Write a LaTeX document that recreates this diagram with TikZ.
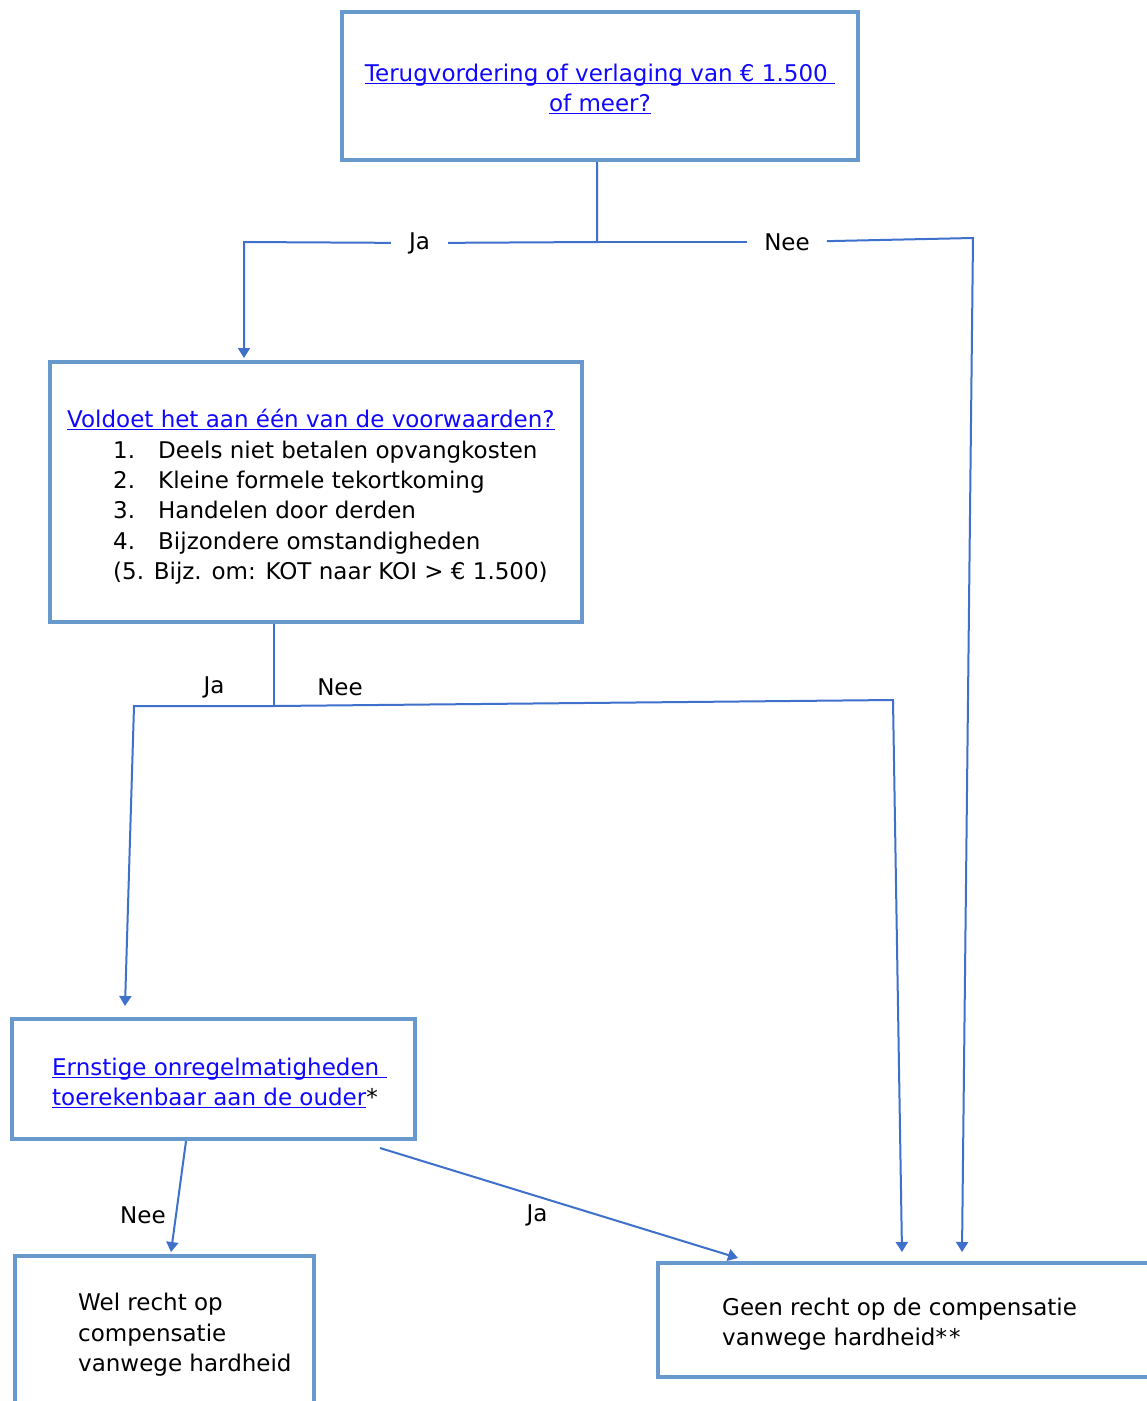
\documentclass[tikz,border=0pt]{standalone}
\usepackage{fontspec}
\setmainfont{DejaVu Sans}
\usetikzlibrary{arrows.meta}
\definecolor{boxc}{RGB}{104,153,204}
\definecolor{linec}{RGB}{62,112,204}
\definecolor{linkc}{RGB}{16,8,255}
\newsavebox\ulboxx
\newcommand{\lnkU}[1]{\sbox\ulboxx{#1}\textcolor{linkc}{\rlap{\rule[-3pt]{\wd\ulboxx}{1.3pt}}#1}}
\tikzset{
 box/.style={draw=boxc, line width=4.2pt, inner sep=0pt, fill=white},
 conn/.style={draw=linec, line width=2pt},
 arr/.style={conn, -{Triangle[width=12pt,length=10pt]}},
 txt/.style={font=\fontsize{23}{30.4}\selectfont, inner sep=0pt, text=black},
 lab/.style={font=\fontsize{23}{27}\selectfont, inner sep=0pt},
 gap/.style={lab, inner xsep=17pt, inner ysep=2pt},
}
\begin{document}
\begin{tikzpicture}[x=1pt,y=-1pt]
\useasboundingbox (0,0) rectangle (1147,1401);
\fill[white] (0,0) rectangle (1147,1401);
% boxes
\node[box, minimum width=516pt, minimum height=148pt] (q1) at (600,86) {};
\node[box, minimum width=532pt, minimum height=260pt] (q2) at (316,492) {};
\node[box, minimum width=403pt, minimum height=120pt] (q3) at (213.5,1079) {};
\node[box, minimum width=299pt, minimum height=164pt] (wel) at (164.5,1338) {};
\node[box, minimum width=512pt, minimum height=114pt] (geen) at (914,1320) {};
% texts
\node[txt, align=center] (t1) at (600,89) {\lnkU{Terugvordering of verlaging van € 1.500 }\\\lnkU{of meer?}};
\node[txt, anchor=base west] (t2a) at (67,427) {\lnkU{Voldoet het aan één van de voorwaarden?}};
\node[txt, anchor=base west] (t2b) at (113,458) {\makebox[45pt][l]{1.}Deels niet betalen opvangkosten};
\node[txt, anchor=base west] (t2c) at (113,488) {\makebox[45pt][l]{2.}Kleine formele tekortkoming};
\node[txt, anchor=base west] (t2d) at (113,518) {\makebox[45pt][l]{3.}Handelen door derden};
\node[txt, anchor=base west] (t2e) at (113,549) {\makebox[45pt][l]{4.}Bijzondere omstandigheden};
\node[txt, anchor=base west] (t2f) at (113,579) {(5. Bijz. om: KOT naar KOI > € 1.500)};
\node[txt, anchor=west, align=left] (t3) at (52,1083) {\lnkU{Ernstige onregelmatigheden }\\\lnkU{toerekenbaar aan de ouder}*};
\node[txt, anchor=west, align=left] (t4) at (78,1335) {Wel recht op\\compensatie\\vanwege hardheid};
\node[txt, anchor=west, align=left] (t5) at (722,1324) {Geen recht op de compensatie\\vanwege hardheid*\kern2pt*};
% connectors from top box
\coordinate (j1) at (597,242);
\node[gap, inner xsep=18pt] (ja1) at (419.5,243) {Ja};
\node[gap] (nee1) at (787,242) {Nee};
\coordinate (c1) at (244,242);
\coordinate (e1) at (244,358);
\coordinate (c2) at (973,238);
\coordinate (e2) at (962,1252);
\draw[conn] (q1.south -| j1) -- (j1) -- (ja1);
\draw[arr] (ja1) -- (c1) -- (e1);
\draw[conn] (j1) -- (nee1);
\draw[arr] (nee1) -- (c2) -- (e2);
% connectors from second box
\coordinate (j2) at (274,706);
\coordinate (c3) at (134,706);
\coordinate (e3) at (125,1006);
\coordinate (c4) at (893,700);
\coordinate (e4) at (902,1252);
\draw[conn] (q2.south -| j2) -- (j2);
\draw[arr] (j2) -- (c3) -- (e3);
\draw[arr] (j2) -- (c4) -- (e4);
\node[lab] (ja2) at (214,687) {Ja};
\node[lab] (nee2) at (340,687) {Nee};
% connectors from third box
\coordinate (s3) at (186,1300);
\coordinate (e5) at (171,1252);
\coordinate (d1) at (380,1148);
\coordinate (e6) at (738,1258);
\draw[arr] (q3.south -| s3) -- (e5);
\draw[arr] (d1) -- (e6);
\node[lab] (nee3) at (143,1215) {Nee};
\node[lab] (ja3) at (537,1215) {Ja};
\end{tikzpicture}
\end{document}
